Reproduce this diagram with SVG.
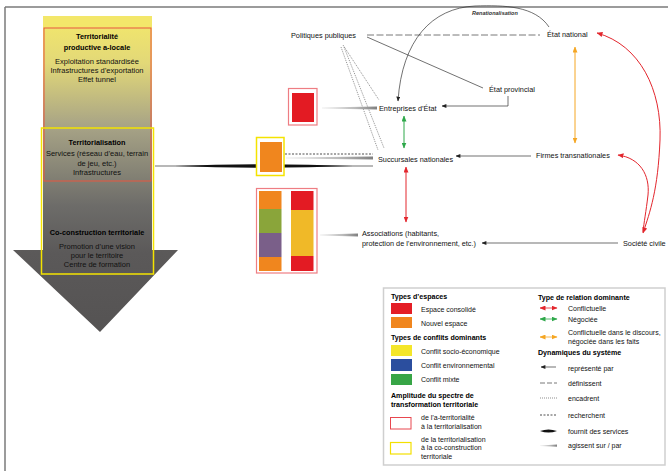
<svg xmlns="http://www.w3.org/2000/svg" width="668" height="471" viewBox="0 0 668 471">
<style>
text{font-family:"Liberation Sans",Arial,sans-serif;fill:#111}
.lt{font-size:7.5px;text-anchor:middle}
.ltb{font-size:7.3px;font-weight:bold;text-anchor:middle;fill:#000}
.n{font-size:7.3px}
.lg{font-size:7px}
.lgb{font-size:7.1px;font-weight:bold;fill:#000}
.thin{stroke:#333;stroke-width:0.7;fill:none}
.dash{stroke:#555;stroke-width:0.8;fill:none;stroke-dasharray:7,2.5}
.dot{stroke:#444;stroke-width:0.6;fill:none;stroke-dasharray:1,1}
.rech{stroke:#222;stroke-width:0.8;fill:none;stroke-dasharray:2,1.5}
</style>
<defs>
<linearGradient id="arrowGrad" gradientUnits="userSpaceOnUse" x1="0" y1="16" x2="0" y2="332">
<stop offset="0" stop-color="#f4e86a"/>
<stop offset="0.15" stop-color="#e2d878"/>
<stop offset="0.35" stop-color="#a7a386"/>
<stop offset="0.6" stop-color="#6d6c69"/>
<stop offset="0.75" stop-color="#5b5959"/>
<stop offset="1" stop-color="#555353"/>
</linearGradient>
<linearGradient id="grayTaper" x1="0" y1="0" x2="1" y2="0">
<stop offset="0" stop-color="#eeeeee"/>
<stop offset="0.6" stop-color="#bbbbbb"/>
<stop offset="1" stop-color="#808080"/>
</linearGradient>
<marker id="mk" viewBox="0 0 6 5" refX="5.5" refY="2.5" markerWidth="5" markerHeight="4" markerUnits="userSpaceOnUse" orient="auto-start-reverse"><path d="M0,0L6,2.5L0,5z" fill="#222"/></marker>
<marker id="mr" viewBox="0 0 6 5" refX="5.5" refY="2.5" markerWidth="6" markerHeight="5" markerUnits="userSpaceOnUse" orient="auto-start-reverse"><path d="M0,0L6,2.5L0,5z" fill="#e3262d"/></marker>
<marker id="mg" viewBox="0 0 6 5" refX="5.5" refY="2.5" markerWidth="6" markerHeight="5" markerUnits="userSpaceOnUse" orient="auto-start-reverse"><path d="M0,0L6,2.5L0,5z" fill="#2ea84a"/></marker>
<marker id="mo" viewBox="0 0 6 5" refX="5.5" refY="2.5" markerWidth="6" markerHeight="5" markerUnits="userSpaceOnUse" orient="auto-start-reverse"><path d="M0,0L6,2.5L0,5z" fill="#f5a623"/></marker>
</defs>

<g id="frame">
<line x1="5" y1="7" x2="668" y2="7" stroke="#7a7a7a" stroke-width="1.5"/>
<line x1="5" y1="7" x2="5" y2="471" stroke="#7a7a7a" stroke-width="1.5"/>
</g>

<g id="spectrum-arrow">
<path d="M43,16 H152 V250 H178 L100,332 L13,250 H43 Z" fill="url(#arrowGrad)"/>
<rect x="43" y="16" width="109" height="12" fill="#f3e76a"/>
<rect x="44" y="28" width="107" height="153" fill="none" stroke="#e8573f" stroke-width="1"/>
<rect x="41.5" y="128" width="112" height="146" fill="none" stroke="#f4e300" stroke-width="1.5"/>
<text class="ltb" x="97" y="39">Territorialité</text>
<text class="ltb" x="97" y="49.5">productive a-locale</text>
<text class="lt" x="97" y="64">Exploitation standardisée</text>
<text class="lt" x="97" y="73">Infrastructures d’exportation</text>
<text class="lt" x="97" y="82">Effet tunnel</text>
<text class="ltb" x="97" y="145">Territorialisation</text>
<text class="lt" x="97" y="156">Services (réseau d’eau, terrain</text>
<text class="lt" x="97" y="165.5">de jeu, etc.)</text>
<text class="lt" x="97" y="175">Infrastructures</text>
<text class="ltb" x="97" y="235">Co-construction territoriale</text>
<text class="lt" x="97" y="249">Promotion d’une vision</text>
<text class="lt" x="97" y="258">pour le territoire</text>
<text class="lt" x="97" y="267">Centre de formation</text>
</g>

<g id="connectors">
<line class="dash" x1="367" y1="35" x2="540" y2="35"/>
<line class="thin" x1="367" y1="37" x2="483" y2="88"/>
<line class="dot" x1="343" y1="45" x2="379" y2="100"/>
<line class="dot" x1="344" y1="47" x2="384" y2="148"/>
<line class="dot" x1="341" y1="47" x2="378" y2="150"/>
<path class="thin" d="M549,27 C535,6 505,5 475,6 C432,8 402,40 398,101" marker-end="url(#mk)"/>
<path class="thin" d="M508,96 V106 H442" marker-end="url(#mk)"/>
<line class="thin" x1="531" y1="156" x2="456" y2="156" marker-end="url(#mk)"/>
<line class="thin" x1="618" y1="243" x2="482" y2="243" marker-end="url(#mk)"/>
<line x1="404" y1="116" x2="404" y2="148" stroke="#2ea84a" stroke-width="1" marker-start="url(#mg)" marker-end="url(#mg)"/>
<line x1="406" y1="167" x2="406" y2="222" stroke="#e3262d" stroke-width="1" marker-start="url(#mr)" marker-end="url(#mr)"/>
<path d="M597,33 C640,45 662,90 660,140 C658,190 650,212 643,233" fill="none" stroke="#e3262d" stroke-width="1" marker-start="url(#mr)" marker-end="url(#mr)"/>
<path d="M618,155 C640,158 650,175 648,195 C646,212 644,222 643,232" fill="none" stroke="#e3262d" stroke-width="1" marker-start="url(#mr)"/>
<line x1="575" y1="47" x2="575" y2="143" stroke="#f5a623" stroke-width="1" marker-start="url(#mo)" marker-end="url(#mo)"/>
<polygon points="322,107.6 377,106.4 377,109.6 322,108.4" fill="url(#grayTaper)"/>
<polygon points="286,157.6 373,156.6 373,159.4 286,158.4" fill="url(#grayTaper)"/>
<polygon points="320,234.6 358,233.6 358,236.4 320,235.4" fill="url(#grayTaper)"/>
<line class="rech" x1="285" y1="154" x2="373" y2="154"/>
<line x1="155" y1="166" x2="373" y2="166" stroke="#111" stroke-width="0.6"/>
<path d="M175,166 Q264,162.5 353,166 Q264,169.5 175,166 Z" fill="#111"/>
</g>

<g id="box-entreprises">
<rect x="288.5" y="88.5" width="28.5" height="36.5" fill="#fff" stroke="#ee7d83" stroke-width="1.2"/>
<rect x="292" y="93" width="22" height="29" fill="#e31b23"/>
</g>
<g id="box-succursales">
<rect x="256.5" y="137.5" width="27.5" height="38" fill="#fff" stroke="#f4e300" stroke-width="1.5"/>
<rect x="260" y="142" width="22" height="30" fill="#f0861e"/>
</g>
<g id="box-associations">
<rect x="256.5" y="188.5" width="60.5" height="84.5" fill="#fff" stroke="#ee7d83" stroke-width="1.2"/>
<rect x="259" y="191" width="22.5" height="18" fill="#f0861e"/>
<rect x="259" y="209" width="22.5" height="24" fill="#8aa53a"/>
<rect x="259" y="233" width="22.5" height="24" fill="#7a5f89"/>
<rect x="259" y="257" width="22.5" height="14" fill="#f0861e"/>
<rect x="291" y="191" width="22.5" height="19" fill="#e31b23"/>
<rect x="291" y="210" width="22.5" height="46" fill="#f0b928"/>
<rect x="291" y="256" width="22.5" height="15" fill="#e31b23"/>
</g>

<g id="politiques-publiques"><text class="n" x="291" y="38">Politiques publiques</text></g>
<g id="etat-national"><text class="n" x="547" y="37">État national</text></g>
<g id="renationalisation"><text x="472" y="15" style="font-size:5.5px;font-style:italic;font-weight:bold;fill:#333">Renationalisation</text></g>
<g id="etat-provincial"><text class="n" x="489" y="92">État provincial</text></g>
<g id="entreprises-etat"><text class="n" x="379" y="111">Entreprises d’État</text></g>
<g id="succursales"><text class="n" x="378" y="161.5">Succursales nationales</text></g>
<g id="firmes"><text class="n" x="536" y="158">Firmes transnationales</text></g>
<g id="associations"><text class="n" x="362" y="236">Associations (habitants,</text><text class="n" x="362" y="246">protection de l’environnement, etc.)</text></g>
<g id="societe-civile"><text class="n" x="623" y="245.5">Société civile</text></g>

<g id="legend">
<rect x="383.5" y="288" width="281.5" height="177" fill="#fff" stroke="#cfcfcf" stroke-width="1.5"/>
<text class="lgb" x="391" y="298.5">Types d’espaces</text>
<rect x="391" y="303" width="21" height="11" fill="#e41e26"/>
<text class="lg" x="421" y="311.5">Espace consolidé</text>
<rect x="391" y="317" width="21" height="11" fill="#f0861e"/>
<text class="lg" x="421" y="325.5">Nouvel espace</text>
<text class="lgb" x="391" y="340">Types de conflits dominants</text>
<rect x="391" y="345" width="21" height="11" fill="#f4e62a"/>
<text class="lg" x="421" y="353.5">Conflit socio-économique</text>
<rect x="391" y="359" width="21" height="12" fill="#2b4e9e"/>
<text class="lg" x="421" y="367.5">Conflit environnemental</text>
<rect x="391" y="374" width="21" height="11" fill="#37a546"/>
<text class="lg" x="421" y="382">Conflit mixte</text>
<text class="lgb" x="391" y="398">Amplitude du spectre de</text>
<text class="lgb" x="391" y="406.5">transformation territoriale</text>
<rect x="390.5" y="417.5" width="20.5" height="11.5" fill="#fff" stroke="#e8474f" stroke-width="1"/>
<text class="lg" x="421" y="420">de l’a-territorialité</text>
<text class="lg" x="421" y="428.5">à la territorialisation</text>
<rect x="390.5" y="442.5" width="20.5" height="11.5" fill="#fff" stroke="#f3e000" stroke-width="1.2"/>
<text class="lg" x="421" y="441.5">de la territorialisation</text>
<text class="lg" x="421" y="450">à la co-construction</text>
<text class="lg" x="421" y="458.5">territoriale</text>

<text class="lgb" x="538" y="300">Type de relation dominante</text>
<line x1="540" y1="308" x2="557" y2="308" stroke="#e3262d" stroke-width="0.8" marker-start="url(#mr)" marker-end="url(#mr)"/>
<text class="lg" x="568" y="311">Conflictuelle</text>
<line x1="540" y1="319" x2="557" y2="319" stroke="#2ea84a" stroke-width="0.8" marker-start="url(#mg)" marker-end="url(#mg)"/>
<text class="lg" x="568" y="322">Négociée</text>
<line x1="540" y1="337" x2="557" y2="337" stroke="#f5a623" stroke-width="0.8" marker-start="url(#mo)" marker-end="url(#mo)"/>
<text class="lg" x="568" y="334.5">Conflictuelle dans le discours,</text>
<text class="lg" x="568" y="343.5">négociée dans les faits</text>
<text class="lgb" x="538" y="355">Dynamiques du système</text>
<line class="thin" x1="556" y1="367" x2="541" y2="367" marker-end="url(#mk)"/>
<text class="lg" x="568" y="370.5">représenté par</text>
<line x1="540" y1="383" x2="557" y2="383" stroke="#555" stroke-width="0.8" stroke-dasharray="5,2"/>
<text class="lg" x="568" y="386">définissent</text>
<line class="dot" x1="540" y1="398" x2="557" y2="398"/>
<text class="lg" x="568" y="401">encadrent</text>
<line class="rech" x1="540" y1="415" x2="557" y2="415"/>
<text class="lg" x="568" y="418">recherchent</text>
<path d="M540,431 Q548.5,428 557,431 Q548.5,434 540,431 Z" fill="#111"/>
<text class="lg" x="568" y="434">fournit des services</text>
<polygon points="540,445.5 557,444.5 557,446.8 540,446" fill="url(#grayTaper)"/>
<text class="lg" x="568" y="448">agissent sur / par</text>
</g>
</svg>
